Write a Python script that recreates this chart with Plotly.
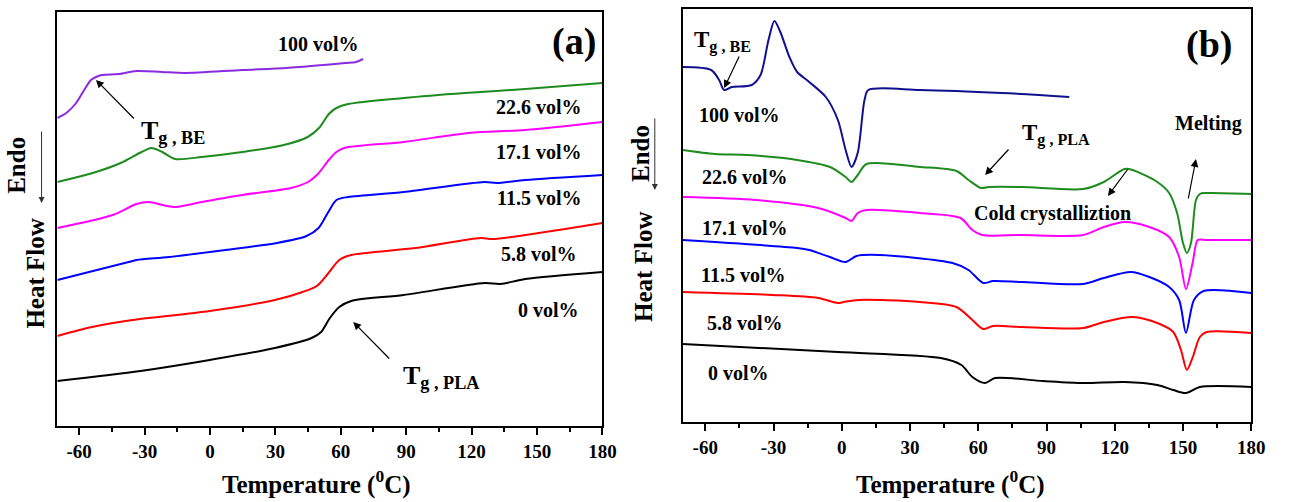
import plotly.graph_objects as go

# ---------------- Panel (a) data: Temperature (°C) vs heat flow (a.u., offset) ----------------
a_T_100 = [-70, -65.9, -61.4, -57.7, -54.6, -52.3, -49.6, -41.9, -33.7, -22, -11.5, 14.8, 35, 52, 62, 67, 70.2]
a_H_100 = [308, 313, 323, 336, 346, 349, 351, 352, 355, 354, 353, 356, 358, 361, 363, 364, 367]

a_T_226 = [-70, -52.3, -41.0, -31.4, -26.9, -21.9, -16.0, -3.8, 14.8, 33.9, 44.8, 50.0, 54.5, 58.0, 63.4, 88.8, 116.9, 144.6, 180]
a_H_226 = [244, 254, 263, 274, 278, 274, 267, 269, 274, 281, 289, 298, 312, 318, 322, 328, 333, 337, 343]

a_T_171 = [-70, -44.6, -33.7, -28.3, -16.5, -3.8, 14.8, 37.1, 45.0, 49.5, 54.5, 58.0, 61.6, 88.8, 118.7, 144.6, 180]
a_H_171 = [198, 211, 222, 224, 219, 224, 231, 238, 244, 252, 266, 274, 278, 284, 293, 296, 304]

a_T_115 = [-70, -37.3, -33.7, -18.7, 7.1, 30.7, 44.3, 49.8, 54.3, 58.0, 63.4, 88.8, 126.0, 131.5, 144.6, 180]
a_H_115 = [146, 164, 166, 169, 176, 183, 190, 198, 214, 226, 229, 234, 244, 243, 246, 251]

a_T_58 = [-70, -54.1, -35.5, -0.1, 29.8, 42.5, 49.0, 54.0, 59.3, 64.8, 94.2, 124.2, 129.6, 180]
a_H_58 = [90, 99, 106, 115, 126, 134, 140, 152, 166, 171, 178, 188, 187, 203]

a_T_0 = [-70, -31.9, -0.1, 29.8, 46.6, 51.0, 55.0, 59.3, 64.8, 88.8, 126.0, 133.3, 144.6, 180]
a_H_0 = [45, 55, 66, 78, 88, 94, 108, 119, 125, 131, 143, 142, 147, 154]

# ---------------- Panel (b) data ----------------
b_T_100 = [-70, -57.4, -53.9, -51.7, -48.3, -39.6, -35.7, -32.2, -29.6, -27.0, -23.0, -19.6, -14.3, -7.0, -1.7, 1.7, 4.3, 7.0, 10.0, 11.7, 34.3, 70.4, 100.0]
b_H_100 = [355, 352, 342, 332, 335, 337, 347, 382, 401, 390, 365, 350, 340, 325, 302, 272, 255, 269, 322, 332, 332, 329, 325]

b_T_226 = [-70, -55.7, -41.3, -19.6, -5.2, 1.7, 4.3, 7.0, 10.9, 34.3, 50.4, 55.7, 61.3, 64.8, 79.1, 106.1, 115.2, 124.3, 127.8, 138.7, 143.9, 147.4, 150.0, 151.7, 153.5, 155.7, 157.4, 160.4, 180]
b_H_226 = [272, 268, 267, 262, 255, 245, 240, 247, 258, 255, 251, 242, 234, 235, 235, 233, 240, 253, 252, 240, 229, 209, 179, 169, 179, 222, 228, 229, 228]

b_T_171 = [-70, -37.8, -10.4, 1.7, 4.3, 7.0, 10.9, 34.3, 52.2, 57.4, 61.7, 79.1, 106.1, 115.2, 124.3, 135.2, 143.9, 148.3, 151.3, 154.3, 156.5, 160.4, 180]
b_H_171 = [225, 222, 214, 204, 201, 209, 212, 209, 204, 192, 187, 187, 187, 195, 200, 195, 185, 165, 133, 160, 182, 182, 182]

b_T_115 = [-70, -19.6, -14.3, -5.2, 1.7, 6.5, 16.5, 48.7, 55.7, 62.2, 66.5, 79.1, 106.1, 115.2, 127.0, 135.2, 143.9, 148.3, 151.3, 154.8, 159.1, 180]
b_H_115 = [182, 174, 172, 165, 160, 166, 167, 159, 152, 139, 141, 140, 138, 144, 150, 145, 135, 122, 89, 122, 131, 129]

b_T_58 = [-70, -30.4, -10.4, -1.7, 0.9, 7.4, 34.3, 50.4, 57.4, 62.2, 66.5, 79.1, 106.1, 115.2, 127.8, 138.7, 145.7, 149.1, 151.7, 154.3, 157.4, 160.4, 180]
b_H_58 = [130, 127, 124, 119, 120, 122, 120, 115, 102, 93, 96, 95, 94, 100, 105, 99, 90, 72, 52, 65, 85, 90, 89]

b_T_0 = [-70, -1.7, 43.5, 52.6, 57.4, 63.0, 67.4, 88.3, 106.1, 124.3, 138.7, 145.7, 151.3, 157.4, 180]
b_H_0 = [78, 70, 64, 57, 45, 39, 44, 41, 39, 40, 37, 32, 29, 35, 35]

x_ticks = [-60, -30, 0, 30, 60, 90, 120, 150, 180]
x_tick_labels = ["-60", "-30", "0", "30", "60", "90", "120", "150", "180"]

FONT = "Liberation Serif"
W, H = 1289, 502

fig = go.Figure()

def add(x, y, color, xa, ya):
    fig.add_trace(go.Scatter(x=x, y=y, mode="lines", xaxis=xa, yaxis=ya,
                             line=dict(color=color, width=2, shape="spline", smoothing=0.8),
                             showlegend=False, hoverinfo="skip"))

add(a_T_100, a_H_100, "#8A2BE2", "x", "y")
add(a_T_226, a_H_226, "#1E8B1E", "x", "y")
add(a_T_171, a_H_171, "#FF00FF", "x", "y")
add(a_T_115, a_H_115, "#0000FF", "x", "y")
add(a_T_58, a_H_58, "#FF0000", "x", "y")
add(a_T_0, a_H_0, "#000000", "x", "y")

add(b_T_100, b_H_100, "#101090", "x2", "y2")
add(b_T_226, b_H_226, "#1E8B1E", "x2", "y2")
add(b_T_171, b_H_171, "#FF00FF", "x2", "y2")
add(b_T_115, b_H_115, "#0000FF", "x2", "y2")
add(b_T_58, b_H_58, "#FF0000", "x2", "y2")
add(b_T_0, b_H_0, "#000000", "x2", "y2")

def px(xp):
    return xp / W

def py(yp):
    return 1 - yp / H

xcommon = dict(range=[-70, 180], tickvals=x_ticks, ticktext=x_tick_labels, ticks="outside", ticklen=7, tickwidth=1.5,
               tickcolor="black", showline=True, linewidth=2, linecolor="black", mirror=True,
               showgrid=False, zeroline=False,
               minor=dict(dtick=15, tick0=-60, ticks="outside", ticklen=4, tickwidth=1.5, tickcolor="black"),
               tickfont=dict(family=FONT, size=19, color="black", weight="bold"))
ycommon = dict(showline=True, linewidth=2, linecolor="black", mirror=True, showgrid=False,
               zeroline=False, showticklabels=False, ticks="")

fig.update_layout(
    width=W, height=H, margin=dict(l=0, r=0, t=0, b=0),
    paper_bgcolor="white", plot_bgcolor="white",
    xaxis=dict(domain=[px(58), px(609)], anchor="y", **xcommon),
    yaxis=dict(domain=[py(426), py(12)], range=[0, 414], anchor="x", **ycommon),
    xaxis2=dict(domain=[px(690), px(1265)], anchor="y2", **xcommon),
    yaxis2=dict(domain=[py(422), py(9)], range=[0, 413], anchor="x2", **ycommon),
)

ann = []
def txt(x, y, s, xr, yr, size=20):
    ann.append(dict(x=x, y=y, xref=xr, yref=yr, text=s, showarrow=False,
                    xanchor="center", yanchor="middle",
                    font=dict(family=FONT, size=size, color="black", weight="bold")))

def arrow(hx, hy, tx, ty, xr, yr):
    ann.append(dict(x=hx, y=hy, ax=tx, ay=ty, xref=xr, yref=yr, axref=xr, ayref=yr, text="",
                    showarrow=True, arrowhead=2, arrowsize=1.3, arrowwidth=1.2, arrowcolor="black"))

# Panel (a) texts
txt(49.8, 382, "100 vol%", "x", "y")
txt(166.8, 384, "(a)", "x", "y", 38)
txt(151, 319, "22.6 vol%", "x", "y")
txt(151, 274, "17.1 vol%", "x", "y")
txt(151, 228, "11.5 vol%", "x", "y")
txt(151, 172, "5.8 vol%", "x", "y")
txt(155.5, 116, "0 vol%", "x", "y")
txt(-17, 294, "T<sub>g , BE</sub>", "x", "y", 26)
arrow(-52.3, 346, -34.2, 306, "x", "y")
txt(106, 49, "T<sub>g , PLA</sub>", "x", "y", 26)
arrow(65.7, 104, 82.9, 66, "x", "y")

# Panel (b) texts
txt(-52.6, 380, "T<sub>g , BE</sub>", "x2", "y2", 23)
arrow(-51.7, 334, -44.8, 367, "x2", "y2")
txt(161.3, 377, "(b)", "x2", "y2", 38)
txt(-44.8, 307, "100 vol%", "x2", "y2")
txt(-42.6, 245, "22.6 vol%", "x2", "y2")
txt(-42.6, 194, "17.1 vol%", "x2", "y2")
txt(-43.5, 147, "11.5 vol%", "x2", "y2")
txt(-42.6, 99, "5.8 vol%", "x2", "y2")
txt(-45.2, 49, "0 vol%", "x2", "y2")
txt(94.0, 288, "T<sub>g , PLA</sub>", "x2", "y2", 23)
arrow(63.0, 247, 73.9, 274, "x2", "y2")
txt(161.3, 299, "Melting", "x2", "y2")
arrow(155.7, 263, 152.2, 222, "x2", "y2")
txt(92.6, 209, "Cold crystalliztion", "x2", "y2")
arrow(117.0, 226, 126.1, 254, "x2", "y2")

# Axis titles
for cx in (320, 961):
    ann.append(dict(x=px(cx), y=py(482), xref="paper", yref="paper", showarrow=False,
                    xanchor="center", yanchor="middle",
                    text="Temperature (<sup>0</sup>C)",
                    font=dict(family=FONT, size=25, color="black", weight="bold")))
for (hx, hy, ex, ey, arx, ar_top, ar_bot) in [(35, 274, 17, 165, 42, 130, 203), (650, 267, 648, 153, 662, 117, 190)]:
    ann.append(dict(x=px(hx), y=py(hy), xref="paper", yref="paper", showarrow=False, textangle=-90,
                    xanchor="center", yanchor="middle",
                    text="Heat Flow", font=dict(family=FONT, size=25, color="black", weight="bold")))
    ann.append(dict(x=px(ex), y=py(ey), xref="paper", yref="paper", showarrow=False, textangle=-90,
                    xanchor="center", yanchor="middle",
                    text="Endo", font=dict(family=FONT, size=25, color="black", weight="bold")))
    ann.append(dict(x=px(arx), y=py(ar_bot), xref="paper", yref="paper", ax=0, ay=-(ar_bot - ar_top),
                    axref="pixel", ayref="pixel", text="", showarrow=True, arrowhead=2,
                    arrowsize=1.2, arrowwidth=1, arrowcolor="#333333"))

fig.update_layout(annotations=ann)
fig.write_html("out.html")
